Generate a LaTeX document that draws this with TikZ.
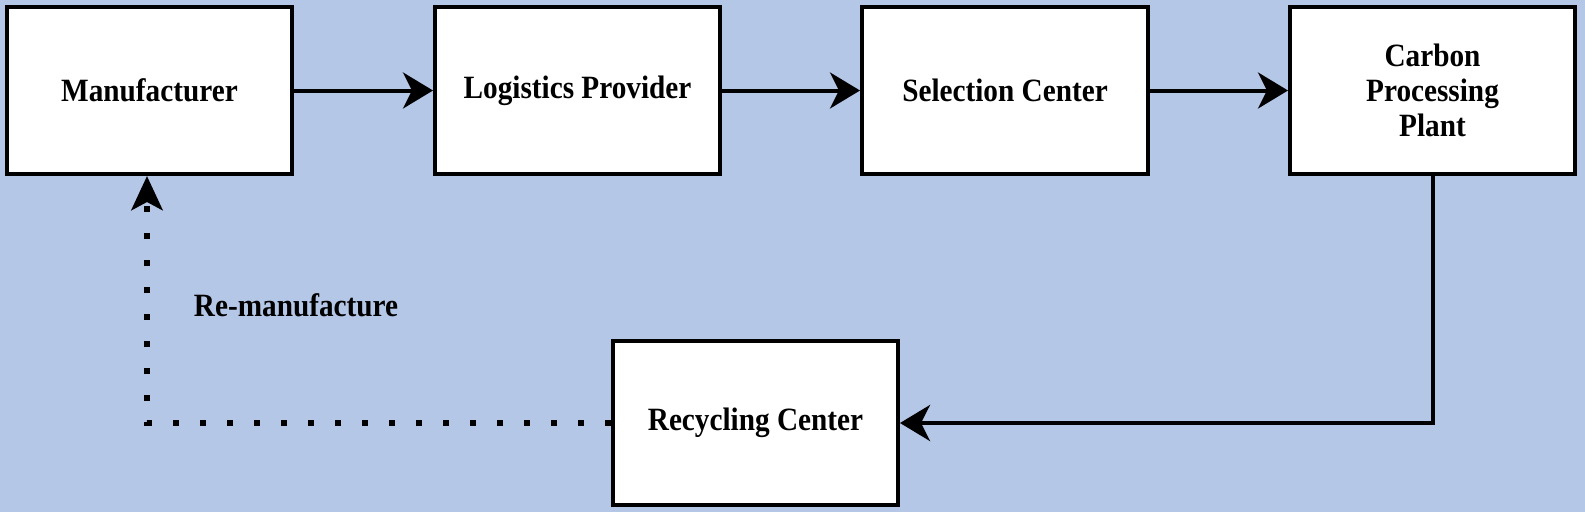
\documentclass[tikz,border=0pt]{standalone}
\usepackage{fontspec}
\setmainfont{Liberation Serif}
\usetikzlibrary{arrows.meta}
\definecolor{bgblue}{RGB}{180,199,231}
\newcommand{\nt}[1]{\scalebox{0.9}[1]{#1}}
\begin{document}
\begin{tikzpicture}[x=1pt,y=-1pt,
  boxnode/.style={draw=black, fill=white, line width=4pt, rectangle, inner sep=0pt,
    minimum width=285pt, minimum height=167pt, align=center,
    font=\fontsize{32.5}{35}\selectfont\bfseries},
  flow/.style={line width=4pt, -{Stealth[length=30pt,width=36pt,inset=9pt]}},
  dotflow/.style={line width=6.5pt, dash pattern=on 6.5pt off 20.5pt,
    -{Stealth[length=34pt,width=31pt,inset=8pt]}}]
\fill[bgblue] (0,0) rectangle (1585,512);
\useasboundingbox (0,0) rectangle (1585,512);
\node[boxnode] (manu) at (149.5,90.5) {\nt{Manufacturer}};
\node[boxnode] (logi) at (577.5,90.5) {\nt{Logistics Provider}};
\node[boxnode, minimum width=286pt] (sel) at (1005,90.5) {\nt{Selection Center}};
\node[boxnode] (carb) at (1432.5,90.5) {\nt{Carbon}\\\nt{Processing}\\\nt{Plant}};
\node[boxnode, minimum height=164pt] (recy) at (755.5,423) {\nt{Recycling Center}};
\coordinate (corner) at (147,423);
\node[font=\fontsize{32.5}{35}\selectfont\bfseries] (lab) at (296,305) {\nt{Re-manufacture}};
\draw[flow] (manu.east) -- (logi.west);
\draw[flow] (logi.east) -- (sel.west);
\draw[flow] (sel.east) -- (carb.west);
\draw[flow] (carb.south) |- (recy.east);
\draw[dotflow] (recy.west) -- (corner) -- (manu.south -| corner);
\end{tikzpicture}
\end{document}
